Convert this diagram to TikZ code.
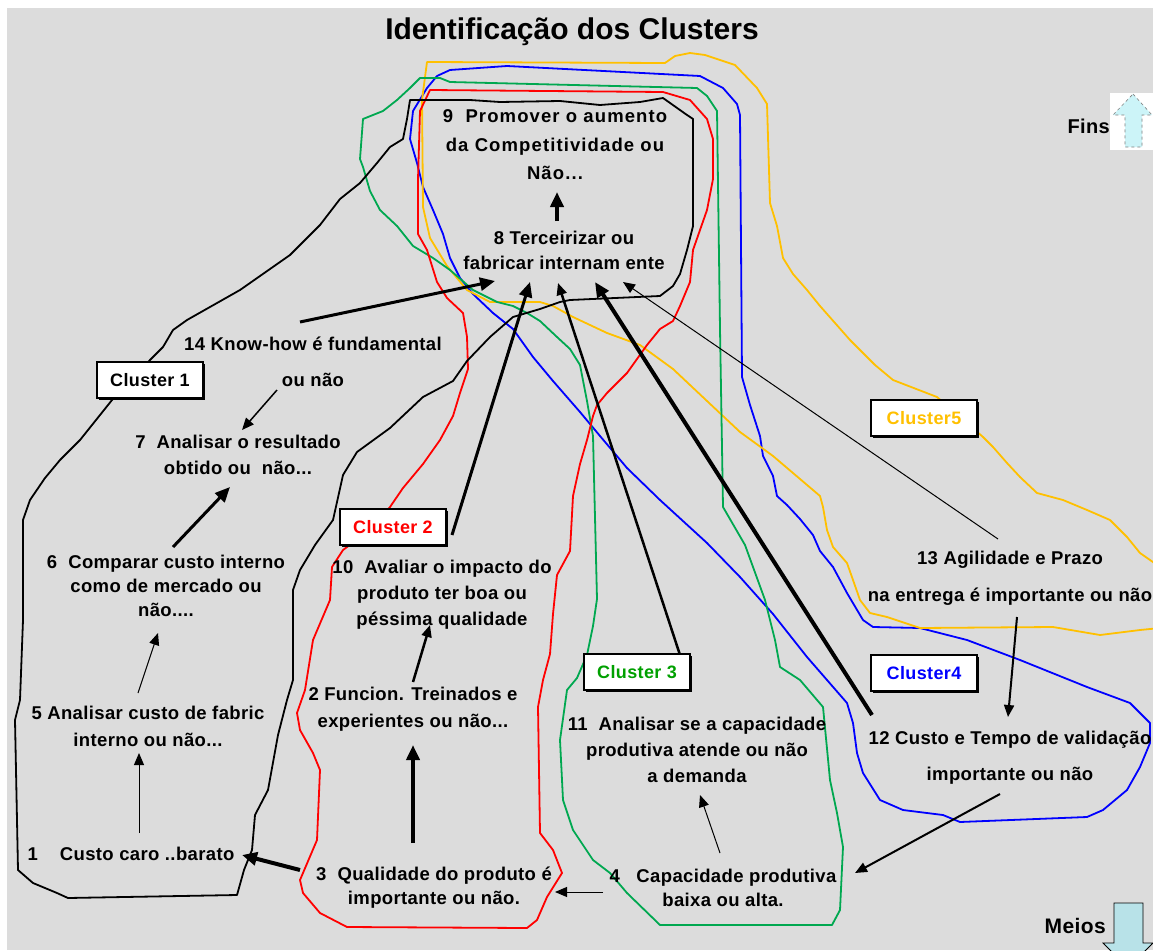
\documentclass[tikz,border=0pt]{standalone}
\usepackage{fontspec}
\setmainfont{Liberation Sans}
\newfontfamily\lab[LetterSpace=2]{Liberation Sans}
\newfontfamily\labwide[LetterSpace=6]{Liberation Sans}
\usetikzlibrary{arrows.meta,shadows}

\definecolor{bggray}{RGB}{220,220,220}
\definecolor{cred}{RGB}{255,0,0}
\definecolor{cgreen}{RGB}{0,168,80}
\definecolor{cgreentxt}{RGB}{0,160,0}
\definecolor{cblue}{RGB}{0,0,255}
\definecolor{corange}{RGB}{255,192,0}
\definecolor{finsfill}{RGB}{204,244,248}
\definecolor{meiosfill}{RGB}{184,226,232}

\begin{document}
\begin{tikzpicture}[x=1pt,y=-1pt,
  txt/.style={font=\lab\bfseries\fontsize{18.5}{#1}\selectfont, align=center, inner sep=0pt},
  txt/.default=26,
  clbox/.style={draw=black, line width=2pt, fill=white, minimum width=106pt, minimum height=36pt,
    inner sep=0pt, font=\lab\bfseries\fontsize{18}{20}\selectfont,
    drop shadow={shadow xshift=2pt, shadow yshift=-2pt, fill=black, opacity=1}},
  outline/.style={line width=1.8pt, line join=round},
  arr/.style={-{Triangle[length=12pt,width=10pt]}, line width=#1},
  arr/.default=1pt,
  bigarr/.style={-{Triangle[length=15pt,width=13pt]}, line width=#1},
  bigarr/.default=3.5pt]

\useasboundingbox (0,0) rectangle (1153,950);
\fill[white] (0,0) rectangle (1153,950);
\fill[bggray] (7,8) rectangle (1153,950);

\begin{scope}
\clip (0,0) rectangle (1153,950);

% cluster outlines
\draw[outline, cblue] (427,88) -- (437,76) -- (450,70) -- (507,66) -- (700,76) -- (723,88) -- (737,104)
  -- (740,115) -- (742,377) -- (750,405) -- (760,436) -- (763,456) -- (773,476) -- (777,496)
  -- (787,505) -- (800,519) -- (813,535) -- (820,551) -- (833,567) -- (847,593) -- (863,620)
  -- (873,627) -- (920,628) -- (967,640) -- (1020,660) -- (1087,687) -- (1130,703) -- (1150,723)
  -- (1150,743) -- (1140,767) -- (1127,790) -- (1103,810) -- (1087,817) -- (960,822) -- (943,815)
  -- (903,810) -- (880,800) -- (863,773) -- (857,753) -- (853,723) -- (847,703) -- (827,680)
  -- (807,657) -- (773,614) -- (740,577) -- (707,543) -- (660,500) -- (627,468) -- (600,436)
  -- (580,412) -- (553,381) -- (533,357) -- (513,329) -- (493,313) -- (473,294) -- (460,278)
  -- (450,258) -- (443,234) -- (433,210) -- (423,187) -- (417,163) -- (410,139) -- (413,111) -- cycle;

\draw[outline, corange] (427,62) -- (665,63) -- (675,56) -- (690,53) -- (705,55) -- (720,60) -- (735,65)
  -- (757,88) -- (767,104) -- (770,203) -- (777,226) -- (783,258) -- (793,274) -- (807,290)
  -- (820,306) -- (850,340) -- (875,365) -- (893,380) -- (937,397) -- (983,437) -- (993,447)
  -- (1007,463) -- (1020,477) -- (1037,493) -- (1063,500) -- (1087,510) -- (1110,520) -- (1127,537)
  -- (1140,553) -- (1160,567) -- (1160,628) -- (1140,630) -- (1100,635) -- (1053,627) -- (920,628)
  -- (887,617) -- (870,613) -- (860,600) -- (853,580) -- (847,563) -- (833,547) -- (827,530)
  -- (823,507) -- (820,496) -- (773,456) -- (740,432) -- (707,401) -- (673,369) -- (640,345)
  -- (607,333) -- (573,317) -- (553,306) -- (540,302) -- (490,302) -- (467,290) -- (447,266)
  -- (430,238) -- (423,207) -- (422,100) -- cycle;

\draw[outline, cgreen] (420,78) -- (440,78) -- (450,82) -- (697,88) -- (707,96) -- (717,111) -- (720,329)
  -- (723,507) -- (745,545) -- (765,600) -- (775,640) -- (780,667) -- (800,680) -- (823,707)
  -- (830,780) -- (837,813) -- (843,847) -- (840,910) -- (832,925) -- (660,925) -- (627,893)
  -- (610,873) -- (593,860) -- (573,830) -- (563,800) -- (560,740) -- (567,690) -- (577,678)
  -- (587,655) -- (593,626) -- (597,599) -- (593,436) -- (587,401) -- (580,365) -- (570,349)
  -- (557,337) -- (540,321) -- (527,313) -- (513,306) -- (497,302) -- (473,290) -- (450,270)
  -- (433,258) -- (413,246) -- (397,226) -- (380,210) -- (370,191) -- (363,167) -- (360,159)
  -- (363,119) -- (383,111) -- (397,100) -- (410,88) -- cycle;

\draw[outline, cred] (430,90) -- (663,92) -- (690,100) -- (707,119) -- (713,139) -- (713,179) -- (707,210)
  -- (700,230) -- (693,250) -- (690,282) -- (680,306) -- (673,321) -- (660,329) -- (647,345)
  -- (627,373) -- (607,393) -- (597,405) -- (593,416) -- (587,440) -- (580,464) -- (573,496)
  -- (570,551) -- (557,575) -- (553,614) -- (550,654) -- (543,680) -- (538,707) -- (540,833)
  -- (553,850) -- (562,873) -- (547,897) -- (537,920) -- (527,928) -- (347,927) -- (320,913)
  -- (303,893) -- (300,880) -- (317,840) -- (320,770) -- (313,753) -- (300,730) -- (297,713)
  -- (305,690) -- (313,640) -- (330,600) -- (332,567) -- (343,550) -- (370,530) -- (390,507)
  -- (403,488) -- (423,464) -- (440,440) -- (453,416) -- (460,393) -- (468,369) -- (467,337)
  -- (463,313) -- (447,298) -- (437,282) -- (427,250) -- (418,234) -- (418,179) -- (420,111) -- cycle;

\draw[outline, black] (410,100) -- (470,100) -- (500,102) -- (560,101) -- (600,105) -- (640,102)
  -- (663,98) -- (687,115) -- (693,119) -- (693,226) -- (687,250) -- (680,274) -- (673,286)
  -- (660,296) -- (570,300) -- (560,302) -- (540,309) -- (513,317) -- (490,337) -- (467,361)
  -- (453,381) -- (423,397) -- (390,428) -- (357,452) -- (343,475) -- (333,520) -- (315,545)
  -- (300,570) -- (293,590) -- (293,680) -- (287,700) -- (278,735) -- (268,790) -- (255,815)
  -- (252,850) -- (244,870) -- (237,895) -- (68,898) -- (57,893) -- (33,883) -- (18,870)
  -- (15,720) -- (20,700) -- (23,620) -- (23,520) -- (30,500) -- (45,478) -- (60,460) -- (80,440)
  -- (100,415) -- (112,400) -- (150,360) -- (163,347) -- (173,330) -- (187,320) -- (240,290)
  -- (290,255) -- (320,225) -- (340,199) -- (360,183) -- (377,163) -- (390,147) -- (403,139)
  -- (407,119) -- cycle;

% ends / means arrows
\fill[white] (1110,93) rectangle (1153,150);
\draw[gray, dashed, line width=0.6pt, fill=finsfill] (1133,94) -- (1152,115) -- (1142,115) -- (1142,147)
  -- (1125,147) -- (1125,115) -- (1113,115) -- cycle;
\draw[black, line width=0.8pt, fill=meiosfill] (1114,903) -- (1143,903) -- (1143,943) -- (1153,943)
  -- (1128,968) -- (1103,943) -- (1114,943) -- cycle;
\end{scope}

% title and side labels
\node[font=\bfseries\fontsize{30}{34}\selectfont, inner sep=0pt] (title) at (572,32) {Identificação dos Clusters};
\node[txt, font=\lab\bfseries\fontsize{20}{22}\selectfont, anchor=east] (fins) at (1110,126) {Fins};
\node[txt, font=\lab\bfseries\fontsize{21}{22}\selectfont, anchor=east] (meios) at (1106,926) {Meios};

% concepts
\node[txt, font=\labwide\bfseries\fontsize{18.5}{28.5}\selectfont] (n9) at (555,145) {9\ \ Promover o aumento\\da Competitividade ou\\Não...};
\node[txt=25] (n8) at (564,250) {8 Terceirizar ou\\fabricar internam ente};
\node[txt=36] (n14) at (313,362) {14 Know-how é fundamental\\ou não};
\node[txt] (n7) at (238,455) {7\ \ Analisar o resultado\\obtido ou\ \ não...};
\node[txt=24] (n6) at (166,586) {6\ \ Comparar custo interno\\como de mercado ou\\não....};
\node[txt=27] (n5) at (148,726) {5 Analisar custo de fabric\\interno ou não...};
\node[txt] (n1) at (131,854) {1\ \ \ \ Custo caro ..barato};
\node[txt=26] (n10) at (442,595) {10\ \ Avaliar o impacto do\\produto ter boa ou\\péssima qualidade};
\node[txt=27] (n2) at (413,709) {2 Funcion. Treinados e\\experientes ou não...};
\node[txt=24] (n3) at (434,888) {3\ \ Qualidade do produto é\\importante ou não.};
\node[txt=26] (n11) at (697,750) {11\ \ Analisar se a capacidade\\produtiva atende ou não\\a demanda};
\node[txt=24] (n4) at (723,888) {4\ \ \ Capacidade produtiva\\baixa ou alta.};
\node[txt=37] (n13) at (1010,578) {13 Agilidade e Prazo\\na entrega é importante ou não};
\node[txt=36] (n12) at (1010,758) {12 Custo e Tempo de validação\\importante ou não};

% connector end points
\coordinate (a14s) at (300,322);  \coordinate (a14e) at (495,281);
\coordinate (b14s) at (277,390);  \coordinate (b14e) at (242,430);
\coordinate (a6s) at (173,547);   \coordinate (a6e) at (230,487);
\coordinate (a5s) at (138,693);   \coordinate (a5e) at (158,633);
\coordinate (a1s) at (139,833);   \coordinate (a1e) at (139,753);
\coordinate (a3s) at (300,870);   \coordinate (a3e) at (242,855);
\coordinate (a4s) at (603,892);   \coordinate (a4e) at (555,892);
\coordinate (b3s) at (413,843);   \coordinate (b3e) at (413,745);
\coordinate (a2s) at (413,682);   \coordinate (a2e) at (430,625);
\coordinate (a10s) at (452,535);  \coordinate (a10e) at (530,282);
\coordinate (a11s) at (680,655);  \coordinate (a11e) at (558,283);
\coordinate (a12s) at (872,715);  \coordinate (a12e) at (595,282);
\coordinate (a13s) at (998,539);  \coordinate (a13e) at (623,282);
\coordinate (b13s) at (1017,617); \coordinate (b13e) at (1008,717);
\coordinate (b12s) at (1000,794); \coordinate (b12e) at (855,873);
\coordinate (b4s) at (720,853);   \coordinate (b4e) at (700,795);
\coordinate (a8s) at (557,221);   \coordinate (a8e) at (557,192);

% influence connectors
\draw[bigarr=3pt] (a14s) -- (a14e);
\draw[arr=1.5pt] (b14s) -- (b14e);
\draw[bigarr=3pt] (a6s) -- (a6e);
\draw[arr=1pt] (a5s) -- (a5e);
\draw[arr=1pt] (a1s) -- (a1e);
\draw[bigarr=4pt] (a3s) -- (a3e);
\draw[arr=1pt] (a4s) -- (a4e);
\draw[bigarr=4pt] (b3s) -- (b3e);
\draw[arr=2.5pt] (a2s) -- (a2e);
\draw[bigarr=3pt] (a10s) -- (a10e);
\draw[arr=2.5pt] (a11s) -- (a11e);
\draw[bigarr=4pt] (a12s) -- (a12e);
\draw[arr=1pt] (a13s) -- (a13e);
\draw[arr=2pt] (b13s) -- (b13e);
\draw[arr=2pt] (b12s) -- (b12e);
\draw[arr=1pt] (b4s) -- (b4e);
\draw[bigarr=4pt] (a8s) -- (a8e);

% cluster labels
\node[clbox] (c1) at (150,380) {Cluster 1};
\node[clbox, text=cred] (c2) at (393,527) {Cluster 2};
\node[clbox, text=cgreentxt] (c3) at (637,672) {Cluster 3};
\node[clbox, text=cblue] (c4) at (924,673) {Cluster4};
\node[clbox, text=corange] (c5) at (924,418) {Cluster5};
\end{tikzpicture}
\end{document}
